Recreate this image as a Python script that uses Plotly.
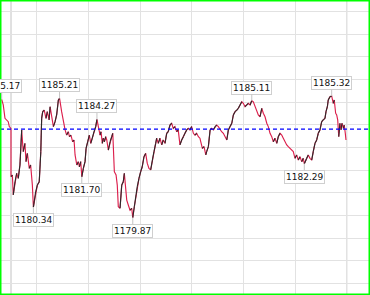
import plotly.graph_objects as go

# ---- data (minutes from session mark, price) ----
minutes_a = [-5.4, -4.5, -3.5, -2.5, -1.6, -1.0, 0.0, 0.0, 0.8, 1.3, 2.3, 3.3, 4.2, 5.2, 6.2, 7.1, 8.1, 8.7, 9.5, 10.6,
             11.4, 12.4, 13.0, 14.3, 15.3, 16.4, 17.3, 17.8, 18.4, 19.3, 20.3, 21.1, 22.1, 22.7, 23.6, 24.6, 25.6, 26.5, 27.5, 28.2]
prices_a = [1185.17, 1184.92, 1184.32, 1184.25, 1184.17, 1183.95, 1183.87, 1181.71, 1181.78, 1180.89,
            1181.48, 1181.86, 1181.63, 1182.23, 1183.80, 1182.83, 1183.20, 1182.38, 1182.75, 1182.08,
            1182.23, 1181.33, 1180.34, 1181.03, 1181.33, 1181.48, 1182.83, 1184.32, 1184.62, 1184.69,
            1184.32, 1184.62, 1184.25, 1184.84, 1184.39, 1183.95, 1184.17, 1184.47, 1185.14, 1185.21]

minutes_b = [29.4, 30.4, 31.4, 32.3, 33.3, 33.9, 34.8, 35.8, 36.6, 37.2, 38.2, 39.1, 39.7, 40.5, 41.1, 42.0, 43.0, 43.6,
             44.5, 45.5, 46.3, 47.2, 48.2, 49.2, 49.9, 51.1, 51.7, 52.3, 53.0, 53.6, 54.2, 55.0, 55.6, 56.5, 57.5, 58.5,
             59.1, 59.4, 60.0, 61.0, 61.7, 62.3, 63.3]
prices_b = [1184.62, 1184.17, 1183.80, 1183.57, 1183.72, 1183.50, 1183.57, 1183.27, 1183.35, 1182.68,
            1182.23, 1182.38, 1182.15, 1182.38, 1181.70, 1182.08, 1182.38, 1182.98, 1183.27, 1183.57,
            1183.20, 1183.43, 1183.72, 1183.95, 1184.27, 1183.87, 1183.57, 1183.72, 1183.20, 1183.43,
            1183.27, 1183.50, 1183.35, 1182.90, 1183.27, 1183.50, 1183.65, 1182.83, 1181.93, 1181.78,
            1181.33, 1180.36, 1180.29]

minutes_c = [64.3, 65.2, 65.8, 66.6, 67.2, 68.1, 69.1, 70.1, 70.7, 71.6, 72.6, 73.3, 74.3, 75.3, 76.2, 77.2, 78.2, 79.1,
             80.1, 81.1, 82.1, 83.0, 84.0, 84.6, 85.5, 86.5, 87.5, 88.4, 89.4, 90.4, 91.3, 92.3, 93.3, 94.2, 95.2, 96.2,
             97.1, 98.1]
prices_c = [1181.33, 1181.48, 1181.86, 1181.19, 1180.66, 1180.44, 1180.21, 1180.29, 1179.87, 1180.36,
            1180.89, 1181.26, 1181.63, 1181.93, 1182.15, 1182.60, 1182.75, 1182.31, 1182.08, 1182.01,
            1182.45, 1182.83, 1183.20, 1183.43, 1183.20, 1183.43, 1183.13, 1183.35, 1183.20, 1183.65,
            1183.72, 1184.02, 1184.10, 1183.87, 1183.95, 1183.72, 1183.80, 1183.13]

minutes_d = [99.1, 100.1, 101.0, 102.0, 103.0, 103.9, 104.9, 105.9, 106.8, 107.8, 108.8, 109.7, 110.2, 111.1, 112.1,
             113.1, 113.6, 114.6, 115.6, 116.5, 117.5, 118.5, 119.4, 120.4, 121.4, 122.3, 123.3, 124.3, 125.3, 126.2,
             127.2, 128.2, 129.1, 130.1, 131.1, 132.0, 133.0]
prices_d = [1183.35, 1183.50, 1183.65, 1183.80, 1183.87, 1183.80, 1183.95, 1183.65, 1183.57, 1183.65,
            1183.50, 1183.43, 1183.27, 1182.98, 1183.05, 1182.68, 1182.83, 1183.05, 1183.80, 1183.87,
            1183.80, 1183.95, 1184.02, 1183.95, 1183.80, 1183.72, 1183.65, 1183.50, 1183.35, 1183.80,
            1183.95, 1184.10, 1184.47, 1184.62, 1184.69, 1184.77, 1184.92]

minutes_e = [134.0, 134.9, 135.9, 136.9, 137.8, 138.8, 139.8, 140.7, 141.7, 142.7, 143.6, 144.6, 145.6, 146.5, 147.5,
             148.5, 149.4, 150.4, 151.4, 152.3, 153.3, 154.3, 155.2, 156.2, 157.2, 158.1, 159.1, 160.1, 161.0, 162.0,
             163.0, 163.9, 164.9, 165.9, 166.8, 167.8, 168.8, 169.7, 170.3, 171.7, 172.6, 173.6, 174.6, 175.5, 176.5,
             177.5, 178.4, 179.4, 180.4, 181.3, 182.3, 182.9, 183.7, 184.2, 185.2, 186.2, 187.1, 187.7, 188.5, 189.1,
             189.7, 190.3, 191.0, 191.6, 192.2, 193.0, 193.5, 194.1, 194.5]
prices_e = [1185.06, 1184.99, 1184.84, 1184.92, 1184.99, 1184.92, 1185.11, 1185.06, 1184.84, 1184.69,
            1184.47, 1184.39, 1184.77, 1184.55, 1184.39, 1184.10, 1183.95, 1183.65, 1183.50, 1183.27,
            1183.43, 1183.20, 1183.50, 1183.65, 1183.57, 1183.43, 1183.27, 1183.13, 1183.05, 1182.98,
            1182.90, 1182.83, 1182.53, 1182.68, 1182.45, 1182.60, 1182.38, 1182.53, 1182.29, 1182.53,
            1182.68, 1182.53, 1182.45, 1182.83, 1183.20, 1183.35, 1183.65, 1183.80, 1184.17, 1184.25,
            1184.32, 1184.62, 1184.84, 1185.14, 1185.29, 1185.32, 1184.99, 1185.14, 1184.55, 1184.47,
            1184.25, 1183.50, 1184.10, 1183.80, 1184.10, 1183.87, 1184.02, 1183.65, 1183.35]

prev_close = 1183.84

ann_minutes = [-5.4, 28.2, 49.9, 139.8, 186.2, 13.0, 41.1, 70.7, 170.3]
ann_prices = [1185.17, 1185.21, 1184.27, 1185.11, 1185.32, 1180.34, 1181.70, 1179.87, 1182.29]
ann_above = [True, True, True, True, True, False, False, False, False]

minutes = minutes_a + minutes_b + minutes_c + minutes_d + minutes_e
prices = prices_a + prices_b + prices_c + prices_d + prices_e
assert len(minutes) == len(prices)

RED = "#dc1f4c"
BLACK = "#2a2a2a"

# segments that rise drawn in black over a red base line
up_x, up_y = [], []
for i in range(len(prices) - 1):
    if prices[i + 1] > prices[i]:
        up_x += [minutes[i], minutes[i + 1], None]
        up_y += [prices[i], prices[i + 1], None]

fig = go.Figure()
fig.add_trace(go.Scatter(x=minutes, y=prices, mode="lines",
                         line=dict(color=RED, width=1.15), hoverinfo="skip"))
fig.add_trace(go.Scatter(x=up_x, y=up_y, mode="lines",
                         line=dict(color=BLACK, width=1.1), hoverinfo="skip", connectgaps=False))

for m, p, above in zip(ann_minutes, ann_prices, ann_above):
    fig.add_annotation(x=m, y=p, text=f"{p:.2f}", showarrow=True, arrowhead=0,
                       arrowwidth=1, arrowcolor="#c4c4c4", ax=0, ay=-13 if above else 13,
                       standoff=0, font=dict(family="DejaVu Sans", size=9, color="#111111"),
                       bgcolor="#ffffff", bordercolor="#cfcfcf", borderwidth=1, borderpad=1)

fig.add_shape(type="line", xref="paper", x0=0, x1=1, y0=prev_close, y1=prev_close,
              line=dict(color="#0000ff", width=1.2, dash="4px,3px"), layer="above")
fig.add_shape(type="line", x0=0, x1=0, yref="paper", y0=0, y1=1,
              line=dict(color="#c2c2c2", width=1), layer="below")
fig.add_shape(type="line", x0=195, x1=195, yref="paper", y0=0, y1=1,
              line=dict(color="#d2d2d2", width=1), layer="below")
fig.add_shape(type="rect", xref="paper", yref="paper", x0=0, x1=1, y0=0, y1=1,
              line=dict(color="#00ff00", width=3), layer="above")

fig.update_layout(
    width=370, height=295, margin=dict(l=0, r=0, t=0, b=0, pad=0),
    paper_bgcolor="white", plot_bgcolor="white", showlegend=False,
    xaxis=dict(range=[-6.39, 208.45], showticklabels=False, ticks="", zeroline=False,
               showline=False, showgrid=True, gridcolor="#e2e2e2", gridwidth=1,
               tickmode="linear", tick0=15, dtick=30),
    yaxis=dict(range=[1176.408, 1189.619], showticklabels=False, ticks="", zeroline=False,
               showline=False, showgrid=True, gridcolor="#e2e2e2", gridwidth=1,
               tickmode="linear", tick0=1185.038, dtick=1.0152),
)

fig.write_html("out.html")
